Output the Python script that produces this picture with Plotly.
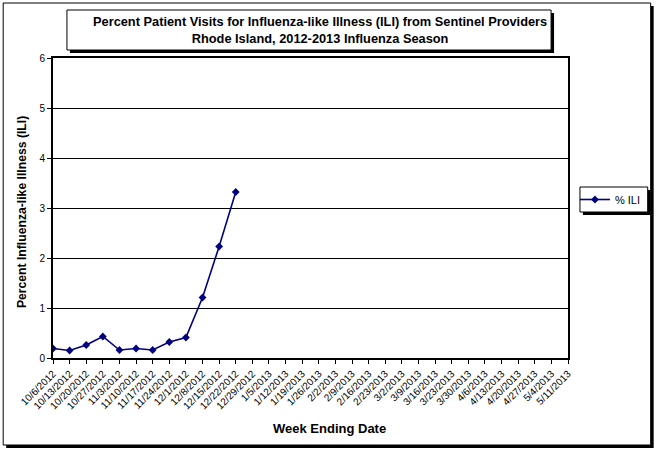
import plotly.graph_objects as go

weeks = ["10/6/2012", "10/13/2012", "10/20/2012", "10/27/2012", "11/3/2012",
         "11/10/2012", "11/17/2012", "11/24/2012", "12/1/2012", "12/8/2012",
         "12/15/2012", "12/22/2012", "12/29/2012", "1/5/2013", "1/12/2013",
         "1/19/2013", "1/26/2013", "2/2/2013", "2/9/2013", "2/16/2013",
         "2/23/2013", "3/2/2013", "3/9/2013", "3/16/2013", "3/23/2013",
         "3/30/2013", "4/6/2013", "4/13/2013", "4/20/2013", "4/27/2013",
         "5/4/2013", "5/11/2013"]
ili = [0.19, 0.15, 0.26, 0.43, 0.16, 0.19, 0.16, 0.32, 0.41, 1.21, 2.23, 3.32]

W, H = 658, 450
L, R, T, B = 53, 570, 58, 358  # plot area in pixels


def px(x):
    return (x - L) / (R - L)


def py(y):
    return (B - y) / (B - T)


def box(x0, y0, x1, y1, lw=1):
    # white box with a dark drop shadow, like the Excel original
    return [
        dict(type="rect", xref="paper", yref="paper", layer="below",
             x0=px(x0 + 3), x1=px(x1 + 3), y0=py(y0 + 3), y1=py(y1 + 3),
             fillcolor="black", line=dict(width=0)),
        dict(type="rect", xref="paper", yref="paper", layer="below",
             x0=px(x0), x1=px(x1), y0=py(y0), y1=py(y1),
             fillcolor="white", line=dict(color="black", width=lw)),
    ]


fig = go.Figure()
fig.add_trace(go.Scatter(
    x=weeks[:len(ili)], y=ili, name="% ILI", mode="lines+markers",
    line=dict(color="#000080", width=1.6),
    marker=dict(symbol="diamond", size=6, color="#000080"),
))

shapes = box(3, 3, 653, 445) + box(67, 10, 553, 50) + box(582, 187, 650, 212)
shapes.append(dict(type="rect", xref="paper", yref="paper", x0=0, x1=1, y0=0, y1=1,
                   fillcolor="white", layer="below", line=dict(width=0)))

fig.update_layout(
    width=W, height=H,
    margin=dict(l=L, r=W - R, t=T, b=H - B),
    paper_bgcolor="white", plot_bgcolor="rgba(0,0,0,0)",
    font=dict(family="Liberation Sans, Arial, sans-serif", color="black"),
    shapes=shapes,
    showlegend=True,
    legend=dict(x=px(577), y=py(199.5), xanchor="left", yanchor="middle",
                bgcolor="rgba(0,0,0,0)", borderwidth=0, font=dict(size=11),
                itemwidth=30),
    annotations=[
        dict(text="<b>Percent Patient Visits for Influenza-like Illness (ILI) from Sentinel Providers"
                  "<br>Rhode Island, 2012-2013 Influenza Season</b>",
             xref="paper", yref="paper", x=px(321), y=py(30), showarrow=False,
             xanchor="center", yanchor="middle", font=dict(size=12.8)),
        dict(text="<b>Percent Influenza-like Illness (ILI)</b>", textangle=-90,
             xref="paper", yref="paper", x=px(22), y=py(212), showarrow=False,
             xanchor="center", yanchor="middle", font=dict(size=12.2)),
        dict(text="<b>Week Ending Date</b>",
             xref="paper", yref="paper", x=px(331), y=py(428), showarrow=False,
             xanchor="center", yanchor="middle", font=dict(size=13)),
    ],
)
fig.update_xaxes(
    type="category", categoryorder="array", categoryarray=weeks,
    tickmode="array", tickvals=weeks, ticktext=weeks,
    range=[0, len(weeks) - 1], tickangle=-45, tickfont=dict(size=10),
    ticks="outside", ticklen=4, tickcolor="black",
    showline=True, linecolor="black", linewidth=2, mirror=True,
    showgrid=False, zeroline=False,
)
fig.update_yaxes(
    range=[0, 6], dtick=1, tickfont=dict(size=10),
    ticks="outside", ticklen=4, tickcolor="black",
    showline=True, linecolor="black", linewidth=2, mirror=True,
    showgrid=True, gridcolor="black", gridwidth=1, zeroline=False,
)

# drop the browser's default body margin so the figure sits at 0,0
fig.write_html("out.html", config={"displayModeBar": False},
               post_script="document.body.style.margin='0';")
